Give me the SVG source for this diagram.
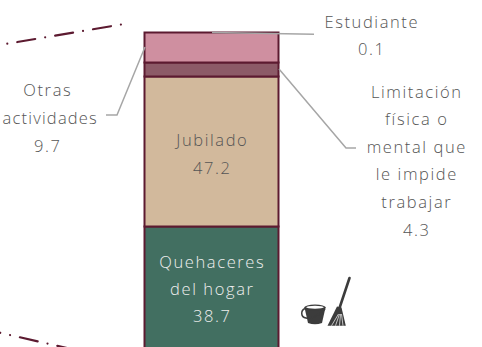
<svg xmlns="http://www.w3.org/2000/svg" width="482" height="347" viewBox="0 0 482 347">
<style>
.lbl{font-family:"Open Sans","DejaVu Sans",sans-serif;font-weight:300;font-size:16.5px;letter-spacing:1.6px;fill:#555555;text-anchor:middle}
.in{fill:#EEEEEE}
.seg{stroke:#5C1A30;stroke-width:2}
.lead{stroke:#A6A6A6;stroke-width:1.5;fill:none}
.dd{stroke:#5C1A30;stroke-width:2.2;fill:none;stroke-linecap:round;stroke-dasharray:0 10.1 18.2 10.1}
.ico{fill:#3C3C3C}
</style>
<rect width="482" height="347" fill="#FFFFFF"/>
<g id="bar">
  <rect id="seg-quehaceres" class="seg" x="144.5" y="226.5" width="134" height="125" fill="#426F61"/>
  <rect id="seg-jubilado" class="seg" x="144.5" y="76.5" width="134" height="150" fill="#D2B99C"/>
  <rect id="seg-limitacion" class="seg" x="144.5" y="62.5" width="134" height="14" fill="#8C5A67"/>
  <rect id="seg-otras" class="seg" x="144.5" y="32.5" width="134" height="30" fill="#CF8FA0"/>
</g>
<g id="connectors">
  <line class="lead" x1="212" y1="32.5" x2="314" y2="34.3"/>
  <polyline class="lead" points="145,47 117,115 106,115"/>
  <polyline class="lead" points="279,69 346,148 356,148"/>
  <path class="dd" d="M7.3 43.7 L122.3 24.3"/>
  <path class="dd" d="M-64.8 317.9 L100 355.6"/>
</g>
<g id="node-estudiante">
  <text class="lbl" x="371.8" y="27.7">Estudiante</text>
  <text class="lbl" x="371.8" y="55">0.1</text>
</g>
<g id="node-otras">
  <text class="lbl" x="47.8" y="96">Otras</text>
  <text class="lbl" x="98" y="124" style="text-anchor:end;letter-spacing:1.2px">actividades</text>
  <text class="lbl" x="47.8" y="151.7">9.7</text>
</g>
<g id="node-limitacion">
  <text class="lbl" x="416.8" y="97.5">Limitación</text>
  <text class="lbl" x="416.8" y="125.1">física o</text>
  <text class="lbl" x="416.8" y="152.7">mental que</text>
  <text class="lbl" x="416.8" y="180.3">le impide</text>
  <text class="lbl" x="416.8" y="207.9">trabajar</text>
  <text class="lbl" x="416.8" y="235.5">4.3</text>
</g>
<g id="node-jubilado">
  <text class="lbl" x="212.3" y="146">Jubilado</text>
  <text class="lbl" x="212.3" y="173.5">47.2</text>
</g>
<g id="node-quehaceres">
  <text class="lbl in" x="212.3" y="268.3">Quehaceres</text>
  <text class="lbl in" x="212.3" y="295">del hogar</text>
  <text class="lbl in" x="212.3" y="322.3">38.7</text>
</g>
<g id="icon-mop">
  <path class="ico" d="M304.5 307.5 L308 323 Q315 325.5 322 323 L325.5 307.5 Z"/>
  <ellipse class="ico" cx="315" cy="307.5" rx="10.8" ry="3"/>
  <ellipse cx="315" cy="307.3" rx="8.8" ry="1.5" fill="#FFFFFF"/>
  <path d="M305 308.5 C300.5 310.5 300.5 317 306 318 C312 319 320 315 325 309" stroke="#3C3C3C" stroke-width="1.5" fill="none"/>
  <line x1="349.5" y1="278" x2="339.5" y2="308" stroke="#3C3C3C" stroke-width="2.6" stroke-linecap="round"/>
  <path class="ico" d="M337 306.5 L341.5 307.5 L345.8 325.7 L327.5 325.7 Z"/>
  <g stroke="#FFFFFF" stroke-width="0.7">
    <line x1="338.5" y1="314" x2="331.5" y2="325.7"/>
    <line x1="339.5" y1="314" x2="335.5" y2="325.7"/>
    <line x1="340.5" y1="314" x2="339.5" y2="325.7"/>
    <line x1="341.5" y1="314" x2="343" y2="325.7"/>
  </g>
</g>
</svg>
